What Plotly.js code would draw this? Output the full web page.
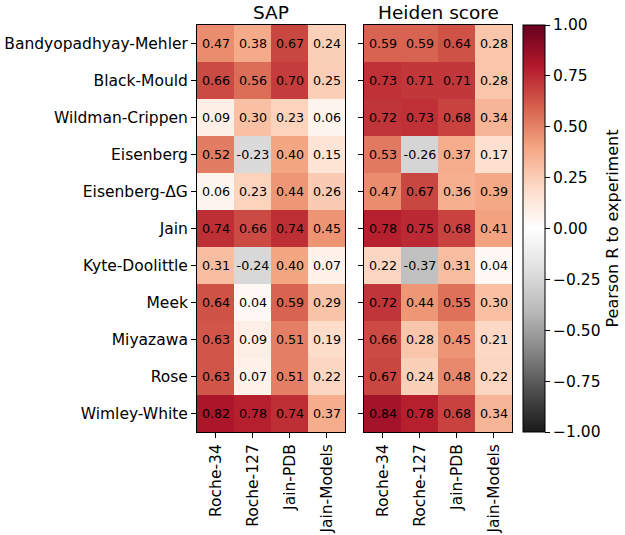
<!DOCTYPE html>
<html>
<head>
<meta charset="utf-8">
<script src="https://cdn.plot.ly/plotly-3.0.1.min.js"></script>
<style>html,body{margin:0;padding:0;background:#fff}#chart{width:625px;height:535px}</style>
</head>
<body>
<div id="chart"></div>
<script>
const methods = ['Bandyopadhyay-Mehler','Black-Mould','Wildman-Crippen','Eisenberg','Eisenberg-ΔG','Jain','Kyte-Doolittle','Meek','Miyazawa','Rose','Wimley-White'];
const datasets = ['Roche-34','Roche-127','Jain-PDB','Jain-Models'];
const sapValues = [
  [0.47,0.38,0.67,0.24],
  [0.66,0.56,0.70,0.25],
  [0.09,0.30,0.23,0.06],
  [0.52,-0.23,0.40,0.15],
  [0.06,0.23,0.44,0.26],
  [0.74,0.66,0.74,0.45],
  [0.31,-0.24,0.40,0.07],
  [0.64,0.04,0.59,0.29],
  [0.63,0.09,0.51,0.19],
  [0.63,0.07,0.51,0.22],
  [0.82,0.78,0.74,0.37]
];
const heidenValues = [
  [0.59,0.59,0.64,0.28],
  [0.73,0.71,0.71,0.28],
  [0.72,0.73,0.68,0.34],
  [0.53,-0.26,0.37,0.17],
  [0.47,0.67,0.36,0.39],
  [0.78,0.75,0.68,0.41],
  [0.22,-0.37,0.31,0.04],
  [0.72,0.44,0.55,0.30],
  [0.66,0.28,0.45,0.21],
  [0.67,0.24,0.48,0.22],
  [0.84,0.78,0.68,0.34]
];
const panelTitles = ['SAP','Heiden score'];
const colorbarTitle = 'Pearson R to experiment';
const colorbarTicks = [-1,-0.75,-0.5,-0.25,0,0.25,0.5,0.75,1];

const FONT = 'DejaVu Sans, sans-serif';
const TICK = 15.5;
const rdgyR = [
  [0.0,'#1a1a1a'],[0.1,'#4d4d4d'],[0.2,'#878787'],[0.3,'#bababa'],[0.4,'#e0e0e0'],
  [0.5,'#ffffff'],[0.6,'#fddbc7'],[0.7,'#f4a582'],[0.8,'#d6604d'],[0.9,'#b2182b'],[1.0,'#67001f']
];
const W = 625, H = 535;
const yTop = 1 - 25/H, yBot = 1 - 432/H;
const dom1 = [197/W, 345/W], dom2 = [364/W, 512/W];

function fmt(arr){ return arr.map(r => r.map(v => v.toFixed(2))); }

const common = {
  type:'heatmap', x: datasets, y: methods,
  colorscale: rdgyR, zmin:-1, zmax:1,
  texttemplate:'%{text}', textfont:{family:FONT, size:12.7, color:'#000'},
  hoverinfo:'skip'
};
const traces = [
  Object.assign({}, common, {z: sapValues, text: fmt(sapValues), xaxis:'x', yaxis:'y', showscale:false}),
  Object.assign({}, common, {z: heidenValues, text: fmt(heidenValues), xaxis:'x2', yaxis:'y2', showscale:true,
    colorbar:{
      x: 523/W, xanchor:'left', xpad:0, ypad:0,
      y: yBot, yanchor:'bottom', len: yTop - yBot, lenmode:'fraction',
      thickness: 22, thicknessmode:'pixels',
      outlinewidth:1, outlinecolor:'#000',
      tickmode:'array', tickvals: colorbarTicks, ticktext: colorbarTicks.map(v => (v<0?'\u2212':'') + Math.abs(v).toFixed(2)),
      ticks:'outside', ticklen:5, tickwidth:1, tickcolor:'#000',
      tickfont:{family:FONT, size:TICK, color:'#000'},
      title:{text: colorbarTitle, side:'right', font:{family:FONT, size:16, color:'#000'}}
    }})
];

const xax = (dom) => ({domain: dom, type:'category', tickangle:-90, ticks:'outside', ticklen:5, tickwidth:1, tickcolor:'#000',
  tickfont:{family:FONT, size:TICK, color:'#000'}, showline:true, mirror:true, linecolor:'#000', linewidth:1, showgrid:false, zeroline:false, fixedrange:true});
const yax = (showLabels, anchor) => ({domain:[yBot, yTop], type:'category', autorange:'reversed', ticks:'outside', ticklen:5, tickwidth:1, tickcolor:'#000',
  showticklabels: showLabels, tickfont:{family:FONT, size:TICK, color:'#000'}, showline:true, mirror:true, linecolor:'#000', linewidth:1,
  showgrid:false, zeroline:false, anchor: anchor, fixedrange:true});

const layout = {
  width: W, height: H,
  margin:{l:0, r:0, t:0, b:0},
  paper_bgcolor:'#fff', plot_bgcolor:'#fff',
  font:{family:FONT, color:'#000'},
  xaxis: Object.assign(xax(dom1), {anchor:'y'}),
  yaxis: yax(true, 'x'),
  xaxis2: Object.assign(xax(dom2), {anchor:'y2'}),
  yaxis2: yax(false, 'x2'),
  annotations: panelTitles.map((t, i) => ({
    text: t, xref:'paper', yref:'paper', x: ((i===0?dom1:dom2)[0] + (i===0?dom1:dom2)[1]) / 2, y: yTop,
    xanchor:'center', yanchor:'bottom', yshift: 0, showarrow:false,
    font:{family:FONT, size:18.5, color:'#000'}
  }))
};

Plotly.newPlot('chart', traces, layout, {displayModeBar:false, staticPlot:true});
</script>
</body>
</html>
